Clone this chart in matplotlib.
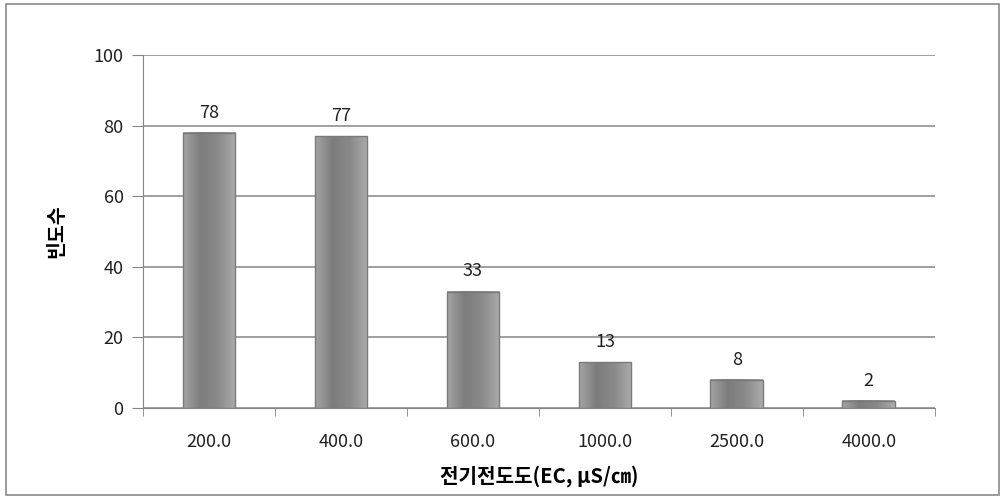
import numpy as np
import matplotlib
matplotlib.use('Agg')
import matplotlib.pyplot as plt
from matplotlib.colors import LinearSegmentedColormap
from matplotlib.patches import Rectangle

plt.rcParams['font.family'] = ['Noto Sans CJK KR', 'DejaVu Sans']

# 데이터
categories = ['200.0', '400.0', '600.0', '1000.0', '2500.0', '4000.0']
counts = [78, 77, 33, 13, 8, 2]

fig = plt.figure(figsize=(10.03, 4.98), dpi=100)
ax = fig.add_axes([0.1426, 0.1807, 0.932 - 0.1426, 0.8896 - 0.1807])

# 바깥 테두리
fig.patches.append(Rectangle((0.006, 0.006), 0.99, 0.986, transform=fig.transFigure,
                             fill=False, edgecolor='#8a8a8a', linewidth=1.2))

# 원통형 그라데이션 막대
cmap = LinearSegmentedColormap.from_list('bar', ['#a4a4a4', '#7c7c7c', '#8a8a8a', '#aaaaaa'])
grad = np.linspace(0, 1, 64).reshape(1, -1)
w = 0.4
x = np.arange(len(categories))
for xi, v in zip(x, counts):
    ax.imshow(grad, extent=(xi - w / 2, xi + w / 2, 0, v), aspect='auto', cmap=cmap, zorder=3)
ax.bar(x, counts, width=w, fill=False, edgecolor='#7a7a7a', linewidth=1, zorder=4)

for xi, v in zip(x, counts):
    ax.annotate(str(v), (xi, v), xytext=(0, 8), textcoords='offset points',
                ha='center', va='bottom', fontsize=13, color='#222222')

ax.set_xlim(-0.5, len(categories) - 0.5)
ax.set_ylim(0, 100)
ax.set_yticks([0, 20, 40, 60, 80, 100])
ax.yaxis.grid(True, color='#858585', linewidth=1.1)
ax.set_axisbelow(True)

ax.set_xticks(x)
ax.set_xticklabels(categories)
ax.set_xticks(np.arange(-0.5, len(categories)), minor=True)
ax.tick_params(axis='x', which='major', length=0, pad=18, labelsize=13, labelcolor='#222222')
ax.tick_params(axis='x', which='minor', length=6, color='#858585', direction='out')
ax.tick_params(axis='y', length=8, color='#858585', pad=6, labelsize=13, labelcolor='#222222')

for s in ['top', 'right']:
    ax.spines[s].set_visible(False)
for s in ['left', 'bottom']:
    ax.spines[s].set_color('#858585')

ax.set_xlabel('전기전도도(EC, μS/㎝)', fontsize=14.5, fontweight='bold', labelpad=10)
ax.set_ylabel('빈도수', fontsize=14, fontweight='bold', labelpad=20)

plt.savefig('out.png', dpi=100)
